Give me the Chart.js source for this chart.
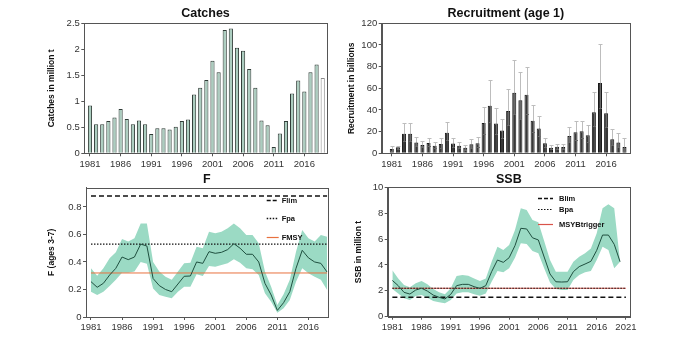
<!DOCTYPE html>
<html><head><meta charset="utf-8">
<script src="https://cdn.jsdelivr.net/npm/chart.js@4/dist/chart.umd.min.js"></script>
<style>
html,body{margin:0;padding:0;background:#fff;}
#wrap{position:relative;width:684px;height:356px;overflow:hidden;}
canvas{position:absolute;}
</style></head><body>
<div id="wrap">
<canvas id="c1" width="342" height="170" style="left:0;top:0;width:342px;height:170px"></canvas>
<canvas id="c2" width="342" height="170" style="left:342px;top:0;width:342px;height:170px"></canvas>
<canvas id="c3" width="342" height="186" style="left:0;top:170px;width:342px;height:186px"></canvas>
<canvas id="c4" width="342" height="186" style="left:342px;top:170px;width:342px;height:186px"></canvas>
</div>
<script>
// ---------- data ----------
const years = [1981,1982,1983,1984,1985,1986,1987,1988,1989,1990,1991,1992,1993,1994,1995,1996,1997,1998,1999,2000,2001,2002,2003,2004,2005,2006,2007,2008,2009,2010,2011,2012,2013,2014,2015,2016,2017,2018,2019];
const ssbYears = [1981,1982,1983,1984,1985,1986,1987,1988,1989,1990,1991,1992,1993,1994,1995,1996,1997,1998,1999,2000,2001,2002,2003,2004,2005,2006,2007,2008,2009,2010,2011,2012,2013,2014,2015,2016,2017,2018,2019,2020];
const xTickLabels = [1981,1986,1991,1996,2001,2006,2011,2016];
const ssbXTickLabels = [1981,1986,1991,1996,2001,2006,2011,2016,2021];

const catches = [0.92,0.56,0.56,0.62,0.69,0.85,0.66,0.56,0.63,0.56,0.37,0.48,0.48,0.46,0.51,0.62,0.65,1.13,1.26,1.41,1.78,1.56,2.37,2.40,2.03,1.97,1.62,1.26,0.63,0.54,0.12,0.38,0.62,1.15,1.40,1.19,1.56,1.71,1.45];
const catchTicks = [0,0.5,1,1.5,2,2.5];

const recruitment = [4,5.5,18,18,10,7.7,9.5,7,8.6,19,9,7,5.2,8.3,9.2,28,44,27.4,21,39,56,49,54,30,23,9.2,5.2,6,5.8,16,19.4,20.3,16.6,38,65,37,13,10,5.8];
const recHigh = [7,7,28,28,15,11,14,10,14,29,14,10.5,8,13,15,43,68,41.5,32,59,86,75,80,45,34,14,7.4,9,9,24,30,30,26,57,101,57,22,18.5,14];
const recLow = [2.3,4.3,11.6,11.6,6.7,5.4,6.4,4.9,5.3,12.4,5.8,4.7,3.4,5.3,5.6,18.2,28.5,18.1,13.8,25.8,36.5,32,36.5,20,15.6,6,3.7,4,3.7,10.7,12.5,13.7,10.6,25.3,41.8,24,7.7,5.4,2.4];
const recTicks = [0,20,40,60,80,100,120];

const fishingF = [0.257,0.216,0.245,0.305,0.354,0.436,0.417,0.436,0.53,0.516,0.28,0.228,0.2,0.184,0.24,0.296,0.298,0.40,0.39,0.475,0.463,0.47,0.49,0.533,0.50,0.456,0.456,0.40,0.245,0.16,0.048,0.104,0.184,0.354,0.485,0.43,0.40,0.39,0.327];
const fHigh = [0.354,0.30,0.354,0.427,0.47,0.567,0.548,0.572,0.68,0.68,0.40,0.33,0.293,0.27,0.33,0.39,0.395,0.51,0.50,0.62,0.608,0.62,0.645,0.68,0.645,0.596,0.596,0.536,0.33,0.22,0.087,0.165,0.27,0.475,0.633,0.572,0.548,0.596,0.584];
const fLow = [0.184,0.16,0.184,0.225,0.27,0.322,0.322,0.33,0.40,0.388,0.208,0.16,0.148,0.136,0.184,0.22,0.22,0.31,0.298,0.37,0.366,0.378,0.39,0.42,0.395,0.354,0.347,0.305,0.172,0.11,0.03,0.063,0.124,0.257,0.354,0.318,0.293,0.27,0.196];
const fTicks = [0,0.2,0.4,0.6,0.8];
const Flim = 0.88, Fpa = 0.53, FMSY = 0.32;

const ssb = [2.8,2.4,1.88,1.75,2.06,2.2,1.98,1.67,1.5,1.37,1.73,2.4,2.5,2.5,2.32,2.19,2.4,3.48,4.38,4.2,4.56,5.49,6.83,6.78,6.1,5.93,4.61,3.3,2.7,2.68,2.7,3.48,3.87,4.07,4.28,5.13,6.31,6.31,5.59,4.25];
const ssbHigh = [3.58,2.96,2.45,2.27,2.58,2.76,2.5,2.14,1.88,1.73,2.19,3.14,3.22,3.17,2.96,2.76,2.96,4.25,5.41,5.15,5.54,6.7,8.38,8.25,7.47,7.29,5.85,4.38,3.48,3.48,3.48,4.25,4.64,4.9,5.28,6.44,8.38,8.69,8.38,4.25];
const ssbLow = [2.14,1.8,1.42,1.29,1.6,1.67,1.47,1.21,1.11,1.03,1.29,1.8,1.88,1.88,1.73,1.62,1.8,2.7,3.53,3.43,3.74,4.56,5.67,5.62,5.08,4.9,3.74,2.65,2.14,2.06,2.06,2.83,3.22,3.43,3.53,4.38,5.41,5.15,3.74,4.25];
const ssbTicks = [0,2,4,6,8,10];
const Blim = 1.5, Bpa = 2.2, MSYBtrigger = 2.2;

// ---------- styles ----------
const AX = '#555';
const TC = '#333';
const TF = {family:'"Liberation Sans", Arial, sans-serif', size:9.5};
const YTF = {family:'"Liberation Sans", Arial, sans-serif', size:8.5, weight:'bold'};
const BAND = '#9bdac4';
const LINE = '#1f4f3f';

// ---------- plugins ----------
const boxPlugin = {id:'box', afterDatasetsDraw(chart){
  const a = chart.chartArea, c = chart.ctx;
  c.save(); c.strokeStyle = AX; c.lineWidth = 1;
  c.strokeRect(Math.round(a.left)+0.5, Math.round(a.top)+0.5, Math.round(a.right)-Math.round(a.left), Math.round(a.bottom)-Math.round(a.top));
  c.restore();
}};
const titlePlugin = {id:'ptitle', afterDraw(chart, args, o){
  const a = chart.chartArea, c = chart.ctx;
  c.save(); c.font = 'bold 12.5px "Liberation Sans", Arial, sans-serif'; c.fillStyle = '#111';
  c.textAlign = 'center'; c.textBaseline = 'middle';
  c.fillText(o.text, (a.left+a.right)/2, a.top - o.gap);
  c.restore();
}};
const legendPlugin = {id:'lbox', afterDraw(chart, args, o){
  if(!o.items) return;
  const a = chart.chartArea, c = chart.ctx;
  c.save(); c.font = 'bold 7.5px "Liberation Sans", Arial, sans-serif'; c.textBaseline = 'middle'; c.textAlign='left';
  o.items.forEach(it => {
    const y = Math.round(a.top + it.dy) + 0.5;
    c.strokeStyle = it.color; c.lineWidth = it.width; c.setLineDash(it.dash);
    c.beginPath(); c.moveTo(a.right + o.x0, y); c.lineTo(a.right + o.x1, y); c.stroke();
    c.setLineDash([]); c.fillStyle = '#111';
    c.fillText(it.label, a.right + o.tx, y);
  });
  c.restore();
}};
const errPlugin = {id:'errbars', afterDatasetsDraw(chart, args, o){
  if(!o.high) return;
  const meta = chart.getDatasetMeta(0), ys = chart.scales.y, c = chart.ctx;
  c.save(); c.lineWidth = 1;
  meta.data.forEach((el, i) => {
    const x = Math.round(el.x) + 0.5;
    const yh = Math.round(ys.getPixelForValue(o.high[i])) + 0.5;
    const yl = Math.round(ys.getPixelForValue(o.low[i])) + 0.5;
    const yv = el.y;
    // part above bar
    c.strokeStyle = '#bdbdbd';
    c.beginPath(); c.moveTo(x, yv); c.lineTo(x, yh);
    c.moveTo(x-2, yh); c.lineTo(x+2, yh); c.stroke();
    // part inside bar
    c.strokeStyle = '#6a6a6a';
    c.beginPath(); c.moveTo(x, yl); c.lineTo(x, yv);
    c.moveTo(x-1.5, yl); c.lineTo(x+1.5, yl); c.stroke();
  });
  c.restore();
}};

function scales(o){
  return {
    x:{type:'linear', min:o.xmin, max:o.xmax, offset:false,
       afterBuildTicks:s=>{s.ticks = o.xticks.map(v=>({value:v}));},
       afterFit:s=>{s.height = o.xH;},
       grid:{display:true, offset:false, drawOnChartArea:false, drawTicks:true, tickLength:3, color:AX},
       border:{display:true, color:AX},
       ticks:{autoSkip:false, maxRotation:0, minRotation:0, padding:2, color:TC, font:TF, callback:v=>String(v)}},
    y:{type:'linear', min:o.ymin, max:o.ymax,
       afterBuildTicks:s=>{s.ticks = o.yticks.map(v=>({value:v}));},
       afterFit:s=>{s.width = o.yW;},
       grid:{display:true, drawOnChartArea:false, drawTicks:true, tickLength:3, color:AX},
       border:{display:true, color:AX},
       ticks:{padding:1.5, color:TC, font:TF, callback:v=>String(v)},
       title:{display:true, text:o.ytitle, color:'#111', font:YTF, padding:{top:o.ytp, bottom:0}}}
  };
}
function common(o){
  return {responsive:false, animation:false, devicePixelRatio:1, events:[],
    layout:{padding:{left:0, top:o.T, right:o.R, bottom:0}},
    plugins:{legend:{display:false}, tooltip:{enabled:false},
      ptitle:{text:o.title, gap:o.gap}, lbox:o.legend || {}, errbars:o.err || {}},
    scales:scales(o)};
}
const pts = (xs, ys) => xs.map((x,i)=>({x:x, y:ys[i]}));
const hline = (x0, x1, v) => [{x:x0, y:v}, {x:x1, y:v}];

// ---------- Catches ----------
new Chart(document.getElementById('c1'), {
  type:'bar',
  data:{datasets:[{data:pts(years, catches),
    backgroundColor: years.map((y,i)=> i===years.length-1 ? '#ffffff' : '#abcdbf'),
    borderColor: years.map((y,i)=> i===years.length-1 ? '#8a8a8a' : '#2f3b36'),
    borderWidth:1, barPercentage:0.68, categoryPercentage:1}]},
  options:common({T:23.3, R:15.3, xH:16.7, yW:84.3, ytp:46.6, gap:9.3,
    xmin:1980.07, xmax:2019.65, xticks:xTickLabels, ymin:0, ymax:2.5, yticks:catchTicks,
    ytitle:'Catches in million t', title:'Catches'}),
  plugins:[boxPlugin, titlePlugin, legendPlugin, errPlugin]
});

// ---------- Recruitment ----------
new Chart(document.getElementById('c2'), {
  type:'bar',
  data:{datasets:[{data:pts(years, recruitment), backgroundColor:'#383838', borderColor:'#1a1a1a',
    borderWidth:1, barPercentage:0.66, categoryPercentage:1}]},
  options:common({T:23.3, R:54, xH:16.7, yW:39.7, ytp:4.3, gap:9.3,
    xmin:1979.35, xmax:2019.9, xticks:xTickLabels, ymin:0, ymax:120, yticks:recTicks,
    ytitle:'Recruitment in billions', title:'Recruitment (age 1)', err:{high:recHigh, low:recLow}}),
  plugins:[boxPlugin, titlePlugin, legendPlugin, errPlugin]
});

// ---------- F ----------
const fX0 = 1981, fX1 = 2019;
new Chart(document.getElementById('c3'), {
  type:'line',
  data:{datasets:[
    {data:pts(years, fHigh), fill:'+1', backgroundColor:BAND, borderWidth:0, pointRadius:0, order:10},
    {data:pts(years, fLow), fill:false, borderWidth:0, pointRadius:0, order:10},
    {data:hline(fX0, fX1, FMSY), borderColor:'#e8713f', borderWidth:1, pointRadius:0, fill:false, order:5},
    {data:hline(fX0, fX1, Fpa), borderColor:'#111', borderWidth:1.3, borderDash:[1.5,1.5], pointRadius:0, fill:false, order:4},
    {data:hline(fX0, fX1, Flim), borderColor:'#111', borderWidth:1.5, borderDash:[5,3], pointRadius:0, fill:false, order:4},
    {data:pts(years, fishingF), borderColor:LINE, borderWidth:1, pointRadius:0, fill:false, tension:0, order:1}
  ]},
  options:common({T:17.7, R:14.3, xH:39, yW:86, ytp:46.6, gap:7.7,
    xmin:1980.2, xmax:2019.1, xticks:xTickLabels, ymin:0, ymax:0.94, yticks:fTicks,
    ytitle:'F (ages 3-7)', title:'F',
    legend:{x0:-61, x1:-49, tx:-46, items:[
      {label:'Flim', color:'#111', width:1.5, dash:[4,2], dy:12.3},
      {label:'Fpa', color:'#111', width:1.3, dash:[1.5,1.5], dy:30.6},
      {label:'FMSY', color:'#e8713f', width:1.2, dash:[], dy:49}]}}),
  plugins:[boxPlugin, titlePlugin, legendPlugin, errPlugin]
});

// ---------- SSB ----------
const bX0 = 1981, bX1 = 2021;
new Chart(document.getElementById('c4'), {
  type:'line',
  data:{datasets:[
    {data:pts(ssbYears, ssbHigh), fill:'+1', backgroundColor:BAND, borderWidth:0, pointRadius:0, order:10},
    {data:pts(ssbYears, ssbLow), fill:false, borderWidth:0, pointRadius:0, order:10},
    {data:hline(bX0, bX1, MSYBtrigger), borderColor:'#d9534a', borderWidth:1.2, pointRadius:0, fill:false, order:5},
    {data:hline(bX0, bX1, Bpa), borderColor:'#111', borderWidth:1.2, borderDash:[1.5,1.5], pointRadius:0, fill:false, order:4},
    {data:hline(bX0, bX1, Blim), borderColor:'#111', borderWidth:1.5, borderDash:[5,3], pointRadius:0, fill:false, order:4},
    {data:pts(ssbYears, ssb), borderColor:LINE, borderWidth:1, pointRadius:0, fill:false, tension:0, order:1}
  ]},
  options:common({T:17.3, R:54, xH:39.3, yW:45.7, ytp:11.9, gap:7.3,
    xmin:1980.2, xmax:2021.7, xticks:ssbXTickLabels, ymin:0, ymax:10, yticks:ssbTicks,
    ytitle:'SSB in million t', title:'SSB',
    legend:{x0:-92, x1:-77, tx:-71, items:[
      {label:'Blim', color:'#111', width:1.5, dash:[4,2], dy:11},
      {label:'Bpa', color:'#111', width:1.2, dash:[1.5,1.5], dy:22},
      {label:'MSYBtrigger', color:'#d9534a', width:1.2, dash:[], dy:37}]}}),
  plugins:[boxPlugin, titlePlugin, legendPlugin, errPlugin]
});
</script>
</body></html>
